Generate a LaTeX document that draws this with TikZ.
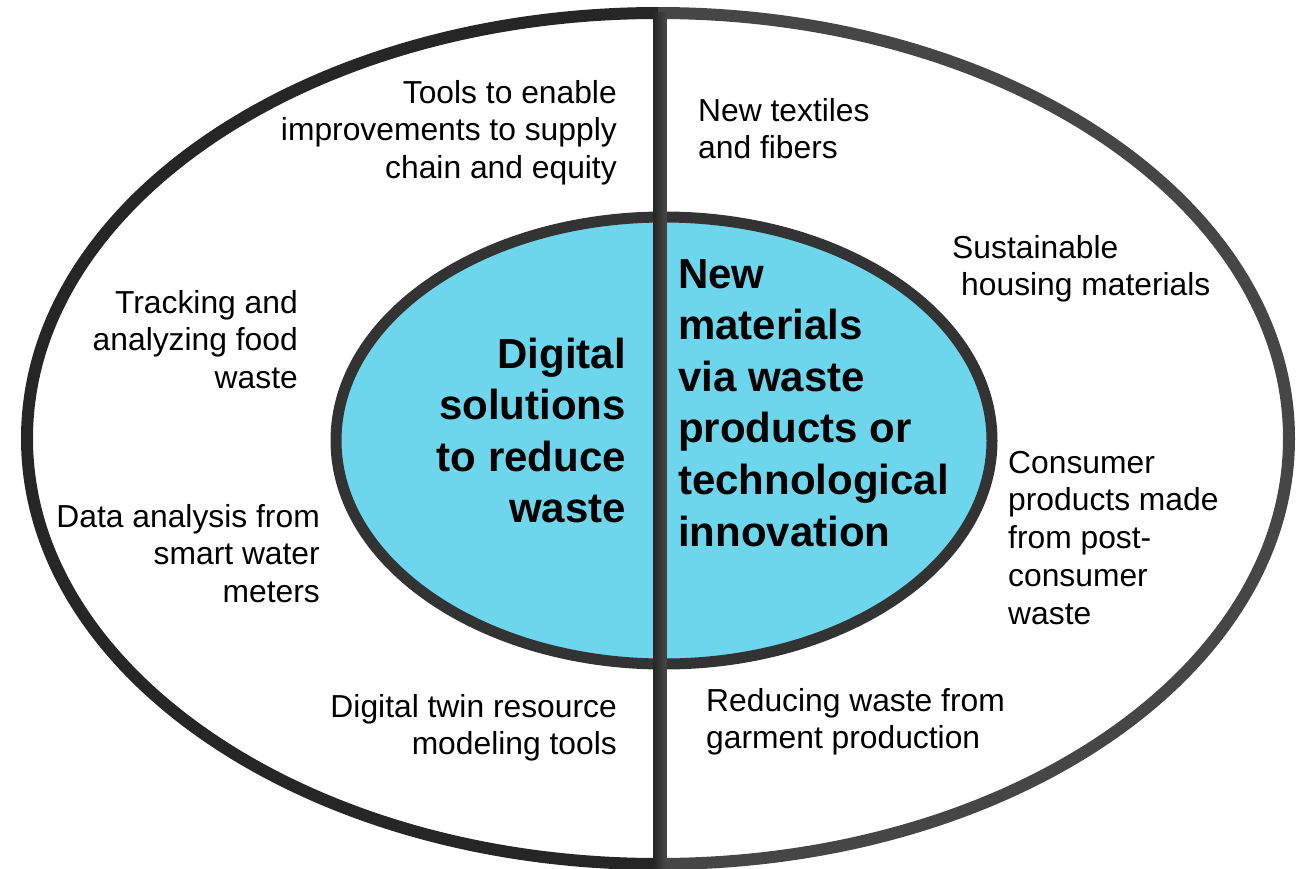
\documentclass[tikz,border=0pt]{standalone}
\usepackage{fontspec}
\setmainfont{Liberation Sans}
\definecolor{ringL}{HTML}{262626}
\definecolor{ringR}{HTML}{464646}
\definecolor{core}{HTML}{6DD6EC}
\definecolor{coreline}{HTML}{333333}
\begin{document}
\begin{tikzpicture}[x=1pt,y=-1pt,
  lab/.style={font=\fontsize{31.8}{37.8}\selectfont, inner sep=0pt, text=black},
  big/.style={font=\fontsize{42}{51.6}\selectfont\bfseries, inner sep=0pt, text=black}]
\useasboundingbox (0,0) rectangle (1301,868);
% outer ellipse
\draw[ringL, line width=12pt] (658,864) arc[start angle=90, end angle=270, x radius=631, y radius=425.5];
\draw[ringR, line width=12pt] (658,13) arc[start angle=-90, end angle=90, x radius=631, y radius=425.5];
% inner ellipse
\draw[coreline, fill=core, line width=11pt] (664,440.5) ellipse[x radius=328, y radius=223.5];
% divider
\shade[left color=ringL, right color=ringR, middle color=ringR!80!black] (653.5,12) rectangle (666.5,868);
% left labels
\node[lab, anchor=base east] (tools) at (617,103) {\begin{tabular}[t]{@{}r@{}}Tools to enable\\improvements to supply\\chain and equity\end{tabular}};
\node[lab, anchor=base east] (food) at (298,313) {\begin{tabular}[t]{@{}r@{}}Tracking and\\analyzing food\\waste\end{tabular}};
\node[lab, anchor=base east] (water) at (320,527) {\begin{tabular}[t]{@{}r@{}}Data analysis from\\smart water\\meters\end{tabular}};
\node[lab, anchor=base east] (twin) at (617,717) {\begin{tabular}[t]{@{}r@{}}Digital twin resource\\modeling tools\end{tabular}};
% right labels
\node[lab, anchor=base west] (textiles) at (698,121) {\begin{tabular}[t]{@{}l@{}}New textiles\\and fibers\end{tabular}};
\node[lab, anchor=base west] (housing) at (952,258) {\begin{tabular}[t]{@{}l@{}}Sustainable\\\hspace*{9pt}housing materials\end{tabular}};
\node[lab, anchor=base west] (consumer) at (1008,473) {\begin{tabular}[t]{@{}l@{}}Consumer\\products made\\from post-\\consumer\\waste\end{tabular}};
\node[lab, anchor=base west] (garment) at (706,711) {\begin{tabular}[t]{@{}l@{}}Reducing waste from\\garment production\end{tabular}};
% core labels
\node[big, anchor=base east] (digital) at (626,368) {\begin{tabular}[t]{@{}r@{}}Digital\\solutions\\to reduce\\waste\end{tabular}};
\node[big, anchor=base west] (materials) at (678,288) {\begin{tabular}[t]{@{}l@{}}New\\materials\\via waste\\products or\\technological\\innovation\end{tabular}};
\end{tikzpicture}
\end{document}
